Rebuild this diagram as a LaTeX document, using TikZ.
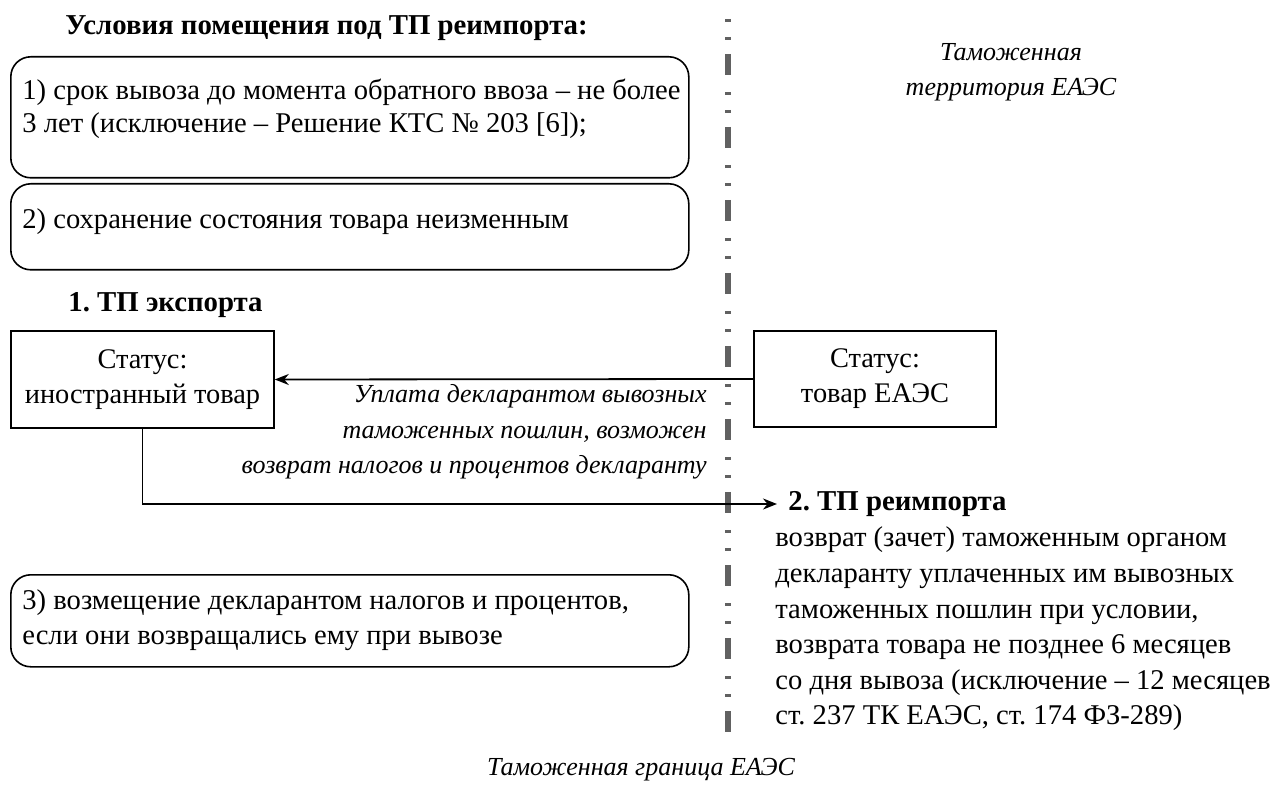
\documentclass[tikz,border=0pt]{standalone}
\usepackage{fontspec}
\setmainfont{Liberation Serif}
\usetikzlibrary{arrows.meta,positioning,calc}
\frenchspacing

\begin{document}
\begin{tikzpicture}[x=0.5pt,y=-0.5pt,
    cond/.style={draw,rounded corners=10pt,line width=0.8pt,anchor=north west,inner sep=0pt},
    status/.style={draw,line width=0.8pt,align=center,inner sep=0pt,font=\fontsize{14.2}{17.5}\selectfont},
    txt/.style={inner sep=0pt,align=left,anchor=west,font=\fontsize{14.3}{16.5}\selectfont},
    hdr/.style={inner sep=0pt,anchor=west,font=\fontsize{14.4}{16}\selectfont\bfseries},
    note/.style={inner sep=0pt,align=center,font=\fontsize{13}{17.5}\selectfont\itshape},
    border/.style={line width=3pt,draw=black!62,
      dash pattern=on 1.5pt off 7.5pt on 1.5pt off 7pt on 10.5pt off 8.5pt},
    arr/.style={-{Stealth[length=7pt,width=5.5pt]},line width=0.9pt}
  ]
  \useasboundingbox (0,0) rectangle (1276,791);
  % customs border
  \coordinate (bordertop) at (728,19);
  \coordinate (borderbot) at (728,740);
  \draw[border] (bordertop) -- (borderbot);
  \node[note] (eaeuzone) at (1011,72.5) {Таможенная\\территория ЕАЭС};
  \node[note] (borderlbl) at (641,770) {Таможенная граница ЕАЭС};
  % conditions
  \node[hdr] (condhdr) at (65,28) {Условия помещения под ТП реимпорта:};
  \node[cond,minimum width=339pt,minimum height=60.5pt] (cond1) at (10,56) {};
  \node[txt] (cond1txt) at (22,108.5) {1) срок вывоза до момента обратного ввоза – не более\\3 лет (исключение – Решение КТС № 203 [6]);};
  \node[cond,minimum width=339pt,minimum height=43pt] (cond2) at (10,183) {};
  \node[txt] (cond2txt) at (22,222) {2) сохранение состояния товара неизменным};
  \node[cond,minimum width=339pt,minimum height=46pt] (cond3) at (10,574) {};
  \node[txt,font=\fontsize{14.3}{17.5}\selectfont] (cond3txt) at (22,620.5) {3) возмещение декларантом налогов и процентов,\\если они возвращались ему при вывозе};
  % export
  \node[hdr] (exphdr) at (68,305) {1. ТП экспорта};
  \node[status,minimum width=131.5pt,minimum height=48.5pt] (foreign) at (142.5,379.5) {Статус:\\иностранный товар};
  \node[status,minimum width=121pt,minimum height=48pt] (eaeu) at (875,379) {Статус:\\товар ЕАЭС};
  \draw[arr] (eaeu.west) -- (foreign.east);
  \node[note,align=right,anchor=east,font=\fontsize{13}{17.75}\selectfont\itshape] (paylbl) at (707,432) {Уплата декларантом вывозных\\таможенных пошлин, возможен\\возврат налогов и процентов декларанту};
  % reimport
  \node[hdr,inner xsep=5.5pt] (reimp) at (777,504) {2. ТП реимпорта};
  \draw[arr] (foreign.south) |- (reimp.west);
  \node[txt,font=\fontsize{14.3}{17.8}\selectfont] (reimptxt) at (775,629) {возврат (зачет) таможенным органом\\декларанту уплаченных им вывозных\\таможенных пошлин при условии,\\возврата товара не позднее 6 месяцев\\со дня вывоза (исключение – 12 месяцев\\ст. 237 ТК ЕАЭС, ст. 174 ФЗ-289)};
\end{tikzpicture}
\end{document}
